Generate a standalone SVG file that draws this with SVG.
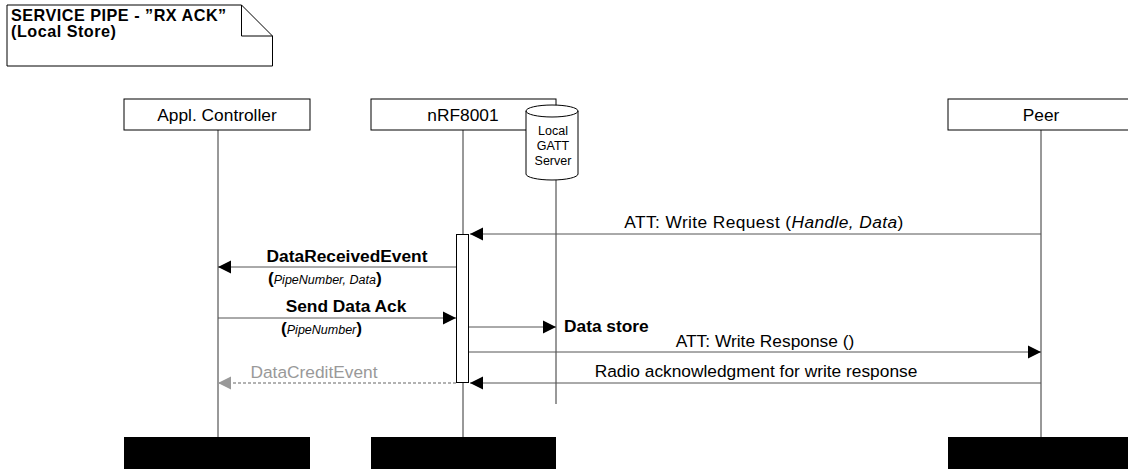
<svg xmlns="http://www.w3.org/2000/svg" width="1128" height="469" viewBox="0 0 1128 469">
<style>
text{font-family:"Liberation Sans",Arial,Helvetica,sans-serif;font-size:17.33px;fill:#000}
.b{font-weight:bold}
.it{font-style:italic}
.sm{font-size:12.5px;font-weight:normal;font-style:italic}
.box{fill:#fff;stroke:#000;stroke-width:1}
.life{stroke:#333;stroke-width:1}
.msg{stroke:#555;stroke-width:1;fill:none}
.grey{stroke:#999;stroke-width:1.5;stroke-dasharray:3 2;fill:none}
.gt{fill:#999}
.cyl{font-size:12.5px}
.nt{font-size:16.2px;letter-spacing:0.5px}
.end{fill:#000}
</style>
<defs>
<marker id="ah" markerUnits="userSpaceOnUse" markerWidth="14" markerHeight="14" refX="13" refY="7" orient="auto"><path d="M0,0.5 L13,7 L0,13.5 z" fill="#000"/></marker>
<marker id="ahg" markerUnits="userSpaceOnUse" markerWidth="14" markerHeight="14" refX="13" refY="7" orient="auto"><path d="M0,0.5 L13,7 L0,13.5 z" fill="#999"/></marker>
</defs>

<g id="note">
<path d="M7,5 H241.5 L272.5,36 V66 H7 Z" class="box"/>
<path d="M241.5,5 V36 H272.5" fill="none" stroke="#000"/>
<text x="11" y="20.5" class="b nt">SERVICE PIPE - ”RX ACK”</text>
<text x="11" y="36.5" class="b nt">(Local Store)</text>
</g>

<g id="lifelines">
<line x1="218" y1="130" x2="218" y2="437" class="life"/>
<line x1="463" y1="130" x2="463" y2="437" class="life"/>
<line x1="556" y1="180" x2="556" y2="404" class="life"/>
<line x1="1041" y1="130" x2="1041" y2="437" class="life"/>
</g>

<g id="appl">
<rect x="124" y="99" width="186" height="31" class="box"/>
<text x="217" y="121" text-anchor="middle">Appl. Controller</text>
<rect x="124" y="437" width="186" height="32" class="end"/>
</g>

<g id="nrf">
<rect x="371" y="99" width="185" height="31" class="box"/>
<text x="463" y="121" text-anchor="middle">nRF8001</text>
<rect x="371" y="437" width="185" height="32" class="end"/>
</g>

<g id="gatt">
<path d="M526,111 V174 A26,6 0 0 0 578,174 V111 A26,6 0 0 0 526,111 Z" class="box"/>
<path d="M526,111 A26,6 0 0 0 578,111" fill="none" stroke="#000"/>
<text x="553" y="135" text-anchor="middle" class="cyl">Local</text>
<text x="553" y="150" text-anchor="middle" class="cyl">GATT</text>
<text x="553" y="165" text-anchor="middle" class="cyl">Server</text>
</g>

<g id="peer">
<rect x="948" y="99" width="186" height="31" class="box"/>
<text x="1041" y="121" text-anchor="middle">Peer</text>
<rect x="948" y="437" width="186" height="32" class="end"/>
</g>

<g id="activation">
<rect x="456.5" y="234.5" width="12" height="148" class="box"/>
</g>

<g id="connectors">
<line x1="1041" y1="234" x2="470" y2="234" class="msg" marker-end="url(#ah)"/>
<line x1="456" y1="267" x2="218" y2="267" class="msg" marker-end="url(#ah)"/>
<line x1="218" y1="318" x2="456" y2="318" class="msg" marker-end="url(#ah)"/>
<line x1="469" y1="327" x2="556" y2="327" class="msg" marker-end="url(#ah)"/>
<line x1="469" y1="352" x2="1041" y2="352" class="msg" marker-end="url(#ah)"/>
<line x1="1041" y1="383" x2="470" y2="383" class="msg" marker-end="url(#ah)"/>
<line x1="456" y1="383" x2="218" y2="383" class="grey" marker-end="url(#ahg)"/>
</g>

<g id="labels">
<text x="764" y="228" text-anchor="middle" letter-spacing="0.4">ATT: Write Request (<tspan class="it">Handle, Data</tspan>)</text>
<text x="347" y="262" text-anchor="middle" class="b">DataReceivedEvent</text>
<text x="268" y="284" class="b">(<tspan class="sm">PipeNumber, Data</tspan>)</text>
<text x="346" y="312" text-anchor="middle" class="b">Send Data Ack</text>
<text x="281" y="334" class="b">(<tspan class="sm">PipeNumber</tspan>)</text>
<text x="564" y="332" class="b">Data store</text>
<text x="765" y="347" text-anchor="middle">ATT: Write Response ()</text>
<text x="756" y="377" text-anchor="middle">Radio acknowledgment for write response</text>
<text x="314" y="378" text-anchor="middle" class="gt">DataCreditEvent</text>
</g>
</svg>
